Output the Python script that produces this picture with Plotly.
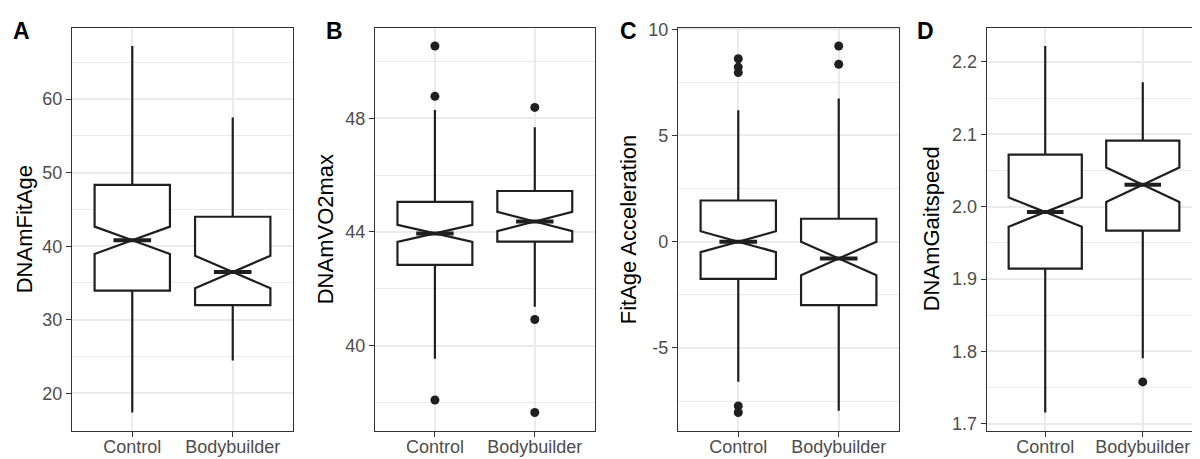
import plotly.graph_objects as go

categories = ["Control", "Bodybuilder"]
cat_pos = [1, 2]

# Panel A: DNAmFitAge
a_q1 = [33.95, 32.0]
a_median = [40.8, 36.5]
a_q3 = [48.34, 44.0]
a_lower = [17.4, 24.46]
a_upper = [67.2, 57.5]
a_notch = [1.86, 2.2]
a_out_cat = []
a_out_val = []
a_ticks = [20, 30, 40, 50, 60]
a_ticklabels = ["20", "30", "40", "50", "60"]

# Panel B: DNAmVO2max
b_q1 = [42.84, 43.66]
b_median = [43.95, 44.37]
b_q3 = [45.06, 45.44]
b_lower = [39.54, 41.37]
b_upper = [48.29, 47.68]
b_notch = [0.30, 0.34]
b_out_cat = ["Control", "Control", "Control", "Bodybuilder", "Bodybuilder", "Bodybuilder"]
b_out_val = [50.54, 48.77, 38.09, 48.38, 40.92, 37.65]
b_ticks = [40, 44, 48]
b_ticklabels = ["40", "44", "48"]

# Panel C: FitAge Acceleration
c_q1 = [-1.75, -2.99]
c_median = [0.0, -0.79]
c_q3 = [1.94, 1.08]
c_lower = [-6.59, -7.96]
c_upper = [6.19, 6.74]
c_notch = [0.49, 0.79]
c_out_cat = ["Control", "Control", "Control", "Control", "Control", "Bodybuilder", "Bodybuilder"]
c_out_val = [8.61, 8.22, 7.96, -7.73, -8.04, 9.21, 8.35]
c_ticks = [-5, 0, 5, 10]
c_ticklabels = ["-5", "0", "5", "10"]

# Panel D: DNAmGaitspeed
d_q1 = [1.9143, 1.9669]
d_median = [1.9925, 2.0302]
d_q3 = [2.0719, 2.0914]
d_lower = [1.7156, 1.7906]
d_upper = [2.222, 2.1718]
d_notch = [0.0202, 0.0238]
d_out_cat = ["Bodybuilder"]
d_out_val = [1.7579]
d_ticks = [1.7, 1.8, 1.9, 2.0, 2.1, 2.2]
d_ticklabels = ["1.7", "1.8", "1.9", "2.0", "2.1", "2.2"]

panel_letters = ["A", "B", "C", "D"]
y_titles = ["DNAmFitAge", "DNAmVO2max", "FitAge Acceleration", "DNAmGaitspeed"]
y_minor = [5, 2, 2.5, 0.05]

panels = [
    (a_q1, a_median, a_q3, a_lower, a_upper, a_notch, a_out_cat, a_out_val, a_ticks, a_ticklabels),
    (b_q1, b_median, b_q3, b_lower, b_upper, b_notch, b_out_cat, b_out_val, b_ticks, b_ticklabels),
    (c_q1, c_median, c_q3, c_lower, c_upper, c_notch, c_out_cat, c_out_val, c_ticks, c_ticklabels),
    (d_q1, d_median, d_q3, d_lower, d_upper, d_notch, d_out_cat, d_out_val, d_ticks, d_ticklabels),
]

# layout geometry (pixels in 1200x459)
W, H = 1200, 459
x_px = [(64, 285), (367, 586.7), (670, 891), (978.7, 1193.3)]
y_top, y_bot = 12, 425
title_x_px = [16, 317, 620, 923]
letter_x_px = [13, 326, 620, 917]

FONT = "Liberation Sans, Arial, Helvetica, sans-serif"
LINE = "#1f1f1f"
BOX_W = 0.75
NOTCH_W = 0.5

fig = go.Figure()
layout_axes = {}
annotations = []

for i, (q1, med, q3, lo, up, ns, oc, ov, tv, tt) in enumerate(panels):
    n = i + 1
    xa = "x" if n == 1 else f"x{n}"
    ya = "y" if n == 1 else f"y{n}"
    fig.add_trace(go.Box(
        x=cat_pos, q1=q1, median=med, q3=q3, lowerfence=lo, upperfence=up,
        notchspan=ns, notched=True, notchwidth=NOTCH_W, width=BOX_W,
        whiskerwidth=0, fillcolor="white", line=dict(color=LINE, width=2.2),
        boxpoints=False, xaxis=xa, yaxis=ya, showlegend=False, hoverinfo="skip",
    ))
    # thicker median segment (ggplot style)
    mx, my = [], []
    half = BOX_W / 2 * NOTCH_W
    for p, m in zip(cat_pos, med):
        mx += [p - half, p + half, None]
        my += [m, m, None]
    fig.add_trace(go.Scatter(x=mx, y=my, mode="lines", line=dict(color=LINE, width=4),
                             xaxis=xa, yaxis=ya, showlegend=False, hoverinfo="skip"))
    if ov:
        fig.add_trace(go.Scatter(
            x=[cat_pos[categories.index(c)] for c in oc], y=ov, mode="markers",
            marker=dict(color=LINE, size=9), xaxis=xa, yaxis=ya,
            showlegend=False, hoverinfo="skip"))

    allv = lo + up + ov
    vmin, vmax = min(allv), max(allv)
    pad = (vmax - vmin) * 0.05
    x0, x1 = x_px[i]
    common = dict(showline=True, mirror=True, linecolor="#333333", linewidth=1.3,
                  ticks="outside", ticklen=5, tickwidth=1.3, tickcolor="#333333",
                  gridcolor="#EBEBEB", gridwidth=1.6, zeroline=False,
                  tickfont=dict(family=FONT, size=18, color="#4D4D4D"))
    layout_axes["xaxis" if n == 1 else f"xaxis{n}"] = dict(
        domain=[x0 / W, x1 / W], range=[0.4, 2.6], tickmode="array",
        tickvals=cat_pos, ticktext=categories, anchor=ya, ticklabelstandoff=-6,
        **common)
    layout_axes["yaxis" if n == 1 else f"yaxis{n}"] = dict(
        domain=[1 - y_bot / H, 1 - y_top / H], range=[vmin - pad, vmax + pad],
        tickmode="array", tickvals=tv, ticktext=tt, anchor=xa,
        minor=dict(tickmode="linear", dtick=y_minor[i], tick0=0, showgrid=True,
                   gridcolor="#EBEBEB", gridwidth=0.8, ticklen=0),
        **common)
    annotations.append(dict(text=y_titles[i], textangle=-90, x=title_x_px[i] / W,
                            y=1 - (y_top + y_bot) / 2 / H, xref="paper", yref="paper",
                            showarrow=False, xanchor="center", yanchor="middle",
                            font=dict(family=FONT, size=22, color="black")))
    annotations.append(dict(text=f"<b>{panel_letters[i]}</b>", x=letter_x_px[i] / W,
                            y=1 - 15 / H, xref="paper", yref="paper", showarrow=False,
                            xanchor="center", yanchor="middle",
                            font=dict(family=FONT, size=23, color="black")))

fig.update_layout(width=W, height=H, margin=dict(l=0, r=0, t=0, b=0),
                  paper_bgcolor="white", plot_bgcolor="white",
                  annotations=annotations, **layout_axes)

fig.write_html("out.html")
